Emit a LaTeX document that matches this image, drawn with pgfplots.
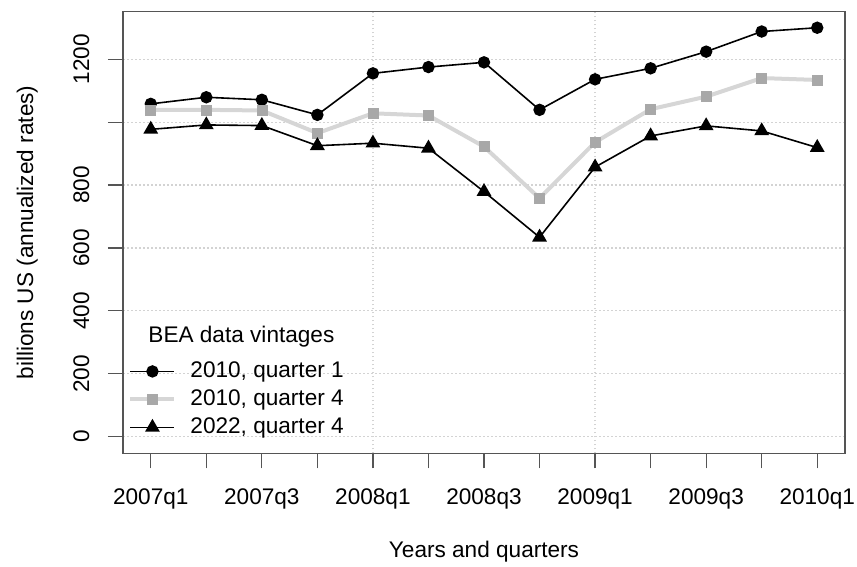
\documentclass[border=0pt]{standalone}
\usepackage{fontspec}
\setmainfont{Liberation Sans}
\usepackage{pgfplots}
\pgfplotsset{compat=1.18}
\definecolor{frame}{HTML}{555555}
\definecolor{gridc}{HTML}{D3D3D3}
\definecolor{lgray}{HTML}{D6D6D6}
\definecolor{mgray}{HTML}{A8A8A8}
\newcommand{\fs}{\fontsize{11.3bp}{13.5bp}\selectfont}
\begin{document}
\begin{tikzpicture}
\path[use as bounding box] (0,0) rectangle (428.5bp,283.5bp);
\begin{axis}[
  at={(61.5bp,56.85bp)}, anchor=south west,
  scale only axis, width=361bp, height=220.8bp,
  xmin=-0.5, xmax=12.5, ymin=-52.8, ymax=1351,
  axis line style={frame, line width=0.6bp},
  every tick/.style={frame, line width=0.6bp},
  tick align=outside, major tick length=7.5bp,
  xtick pos=lower, ytick pos=left,
  xtick={0,...,12},
  xticklabels={2007q1,,2007q3,,2008q1,,2008q3,,2009q1,,2009q3,,2010q1},
  ytick={0,200,400,600,800,1000,1200},
  yticklabels={0,200,400,600,800,,1200},
  /pgf/number format/assume math mode=true,
  every tick label/.append style={font=\fs, text=black},
  yticklabel style={xshift=-9.5bp, rotate=90, anchor=base},
  xticklabel style={yshift=-18bp, anchor=base},
  ymajorgrids=true,
  grid style={gridc, line width=0.6bp, dash pattern=on 0.8bp off 1.2bp},
  extra x ticks={4,8}, extra x tick labels={},
  extra x tick style={grid=major, major tick length=0pt},
  xlabel={Years and quarters},
  ylabel={billions US (annualized rates)},
  label style={font=\fs},
  xlabel style={at={(axis description cs:0.5,-0.236)}, anchor=base},
  ylabel style={at={(axis description cs:-0.1245,0.5)}, anchor=base, rotate=0},
  legend style={at={(rel axis cs:0.007,0.218)}, anchor=north west, draw=none, fill=none,
    inner sep=0pt, font=\fs, row sep=0pt,
    /tikz/every odd column/.append style={column sep=5bp},
    nodes={text height=8bp, text depth=2bp, inner sep=2bp}},
  legend cell align=left,
  legend image code/.code={\draw[mark repeat=2,mark phase=2,#1] plot coordinates {(0bp,0bp) (11bp,0bp) (22bp,0bp)};},
]
\addplot[black, line width=0.8bp, mark=*, mark size=2.7bp, mark options={solid, fill=black}]
  coordinates {(0,1058)(1,1079)(2,1071)(3,1023)(4,1155)(5,1175)(6,1190)(7,1039)(8,1136)(9,1171)(10,1224)(11,1288)(12,1300)};
\addlegendentry{2010, quarter 1}
\addplot[lgray, line width=2bp, mark=square*, mark size=2.5bp, mark options={solid, fill=mgray, draw=mgray, line width=0.3bp}]
  coordinates {(0,1039)(1,1039)(2,1037)(3,965)(4,1028)(5,1021)(6,922)(7,758)(8,936)(9,1041)(10,1081)(11,1140)(12,1134)};
\addlegendentry{2010, quarter 4}
\addplot[black, line width=0.8bp, mark=triangle*, mark size=3.5bp, mark options={solid, fill=black}]
  coordinates {(0,977)(1,991)(2,989)(3,925)(4,933)(5,917)(6,779)(7,634)(8,857)(9,956)(10,988)(11,972)(12,919)};
\addlegendentry{2022, quarter 4}
\node[font=\fs, anchor=base] at (rel axis cs:0.164,0.2507) {BEA data vintages};
\end{axis}
\end{tikzpicture}
\end{document}
